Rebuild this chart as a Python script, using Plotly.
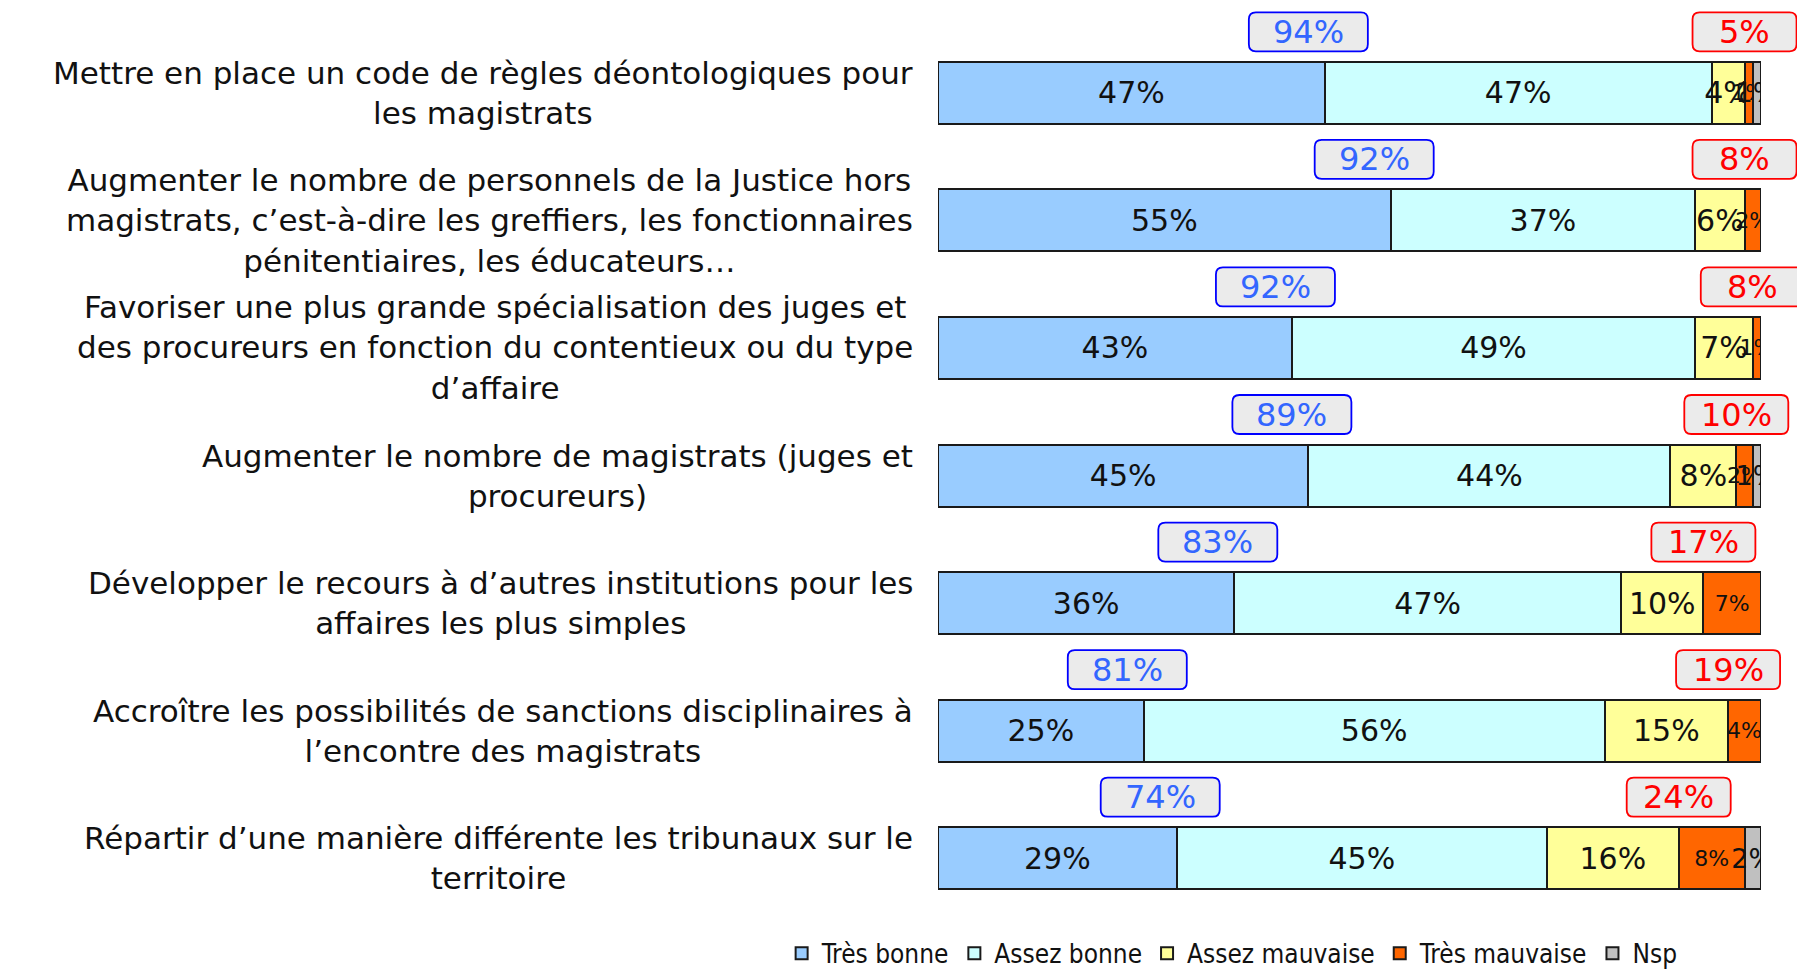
import plotly.graph_objects as go

categories = [
    "Mettre en place un code de règles déontologiques pour<br>les magistrats",
    "Augmenter le nombre de personnels de la Justice hors<br>magistrats, c’est-à-dire les greffiers, les fonctionnaires<br>pénitentiaires, les éducateurs…",
    "Favoriser une plus grande spécialisation des juges et<br>des procureurs en fonction du contentieux ou du type<br>d’affaire",
    "Augmenter le nombre de magistrats (juges et<br>procureurs)",
    "Développer le recours à d’autres institutions pour les<br>affaires les plus simples",
    "Accroître les possibilités de sanctions disciplinaires à<br>l’encontre des magistrats",
    "Répartir d’une manière différente les tribunaux sur le<br>territoire",
]
tres_bonne = [47, 55, 43, 45, 36, 25, 29]
assez_bonne = [47, 37, 49, 44, 47, 56, 45]
assez_mauvaise = [4, 6, 7, 8, 10, 15, 16]
tres_mauvaise = [1, 2, 1, 2, 7, 4, 8]
nsp = [1, 0, 0, 1, 0, 0, 2]
total_bonne = [94, 92, 92, 89, 83, 81, 74]
total_mauvaise = [5, 8, 8, 10, 17, 19, 24]

series = [
    ("Très bonne", tres_bonne, "#99CCFF", 30),
    ("Assez bonne", assez_bonne, "#CCFFFF", 30),
    ("Assez mauvaise", assez_mauvaise, "#FFFF99", 30),
    ("Très mauvaise", tres_mauvaise, "#FF6600", 22),
    ("Nsp", nsp, "#C0C0C0", 27),
]

FONT = "DejaVu Sans, Verdana, sans-serif"
n = len(categories)
ids = list(range(n))

fig = go.Figure()
for name, vals, color, fs in series:
    fig.add_trace(go.Bar(
        name=name, y=ids, x=vals, orientation="h",
        marker=dict(color=color, line=dict(color="#1a1a1a", width=2)),
        text=[f"{v}%" if v else "" for v in vals],
        textposition="inside", insidetextanchor="middle", textangle=0,
        constraintext="none",
        textfont=dict(family=FONT, size=fs, color="#111111"),
        hoverinfo="skip",
    ))


def rounded_box(w, h, r, dy):
    l, rt, b, t = -w / 2, w / 2, dy - h / 2, dy + h / 2
    return (f"M{l + r},{b} L{rt - r},{b} Q{rt},{b} {rt},{b + r} L{rt},{t - r} "
            f"Q{rt},{t} {rt - r},{t} L{l + r},{t} Q{l},{t} {l},{t - r} "
            f"L{l},{b + r} Q{l},{b} {l + r},{b} Z")


BOX_DY = 61
annotations = []
shapes = []
for i, cat in enumerate(categories):
    y_paper = 1 - (i + 0.5) / n
    annotations.append(dict(
        x=0, xref="paper", y=i, yref="y", xanchor="right", yanchor="middle",
        xshift=-23, text=cat, align="center", showarrow=False,
        font=dict(family=FONT, size=31, color="#111111"),
    ))
    xb = tres_bonne[i] - 2
    shapes.append(dict(
        type="path", xref="paper", yref="paper", xsizemode="pixel", ysizemode="pixel",
        xanchor=xb / 100, yanchor=y_paper, path=rounded_box(119, 39, 7, BOX_DY),
        fillcolor="#EBEBEB", line=dict(color="#0000FF", width=1.8),
    ))
    annotations.append(dict(
        x=xb, xref="x", y=i, yref="y", yshift=BOX_DY,
        text=f"{total_bonne[i]}%", showarrow=False,
        font=dict(family=FONT, size=32, color="#3366FF"),
    ))
    xr = tres_bonne[i] + assez_bonne[i] + assez_mauvaise[i]
    shapes.append(dict(
        type="path", xref="paper", yref="paper", xsizemode="pixel", ysizemode="pixel",
        xanchor=xr / 100, yanchor=y_paper, path=rounded_box(104, 39, 7, BOX_DY),
        fillcolor="#EBEBEB", line=dict(color="#FF0000", width=1.8),
    ))
    annotations.append(dict(
        x=xr, xref="x", y=i, yref="y", yshift=BOX_DY,
        text=f"{total_mauvaise[i]}%", showarrow=False,
        font=dict(family=FONT, size=32, color="#FF0000"),
    ))

# page body has an 8px margin: compensate so the plot lands where the reference has it
fig.update_layout(
    barmode="stack",
    bargap=0.514,
    width=1805, height=973,
    margin=dict(l=930, r=52, t=21, b=59, autoexpand=False),
    plot_bgcolor="white", paper_bgcolor="white",
    xaxis=dict(range=[0, 100], visible=False, fixedrange=True),
    yaxis=dict(range=[n - 0.5, -0.5], visible=False, fixedrange=True),
    annotations=annotations,
    shapes=shapes,
    showlegend=True,
    legend=dict(
        orientation="h", x=-0.19, xanchor="left", y=-0.035, yanchor="middle",
        font=dict(family="DejaVu Sans Condensed, DejaVu Sans, sans-serif", size=26, color="#111111"),
        traceorder="normal", itemwidth=30, bgcolor="rgba(0,0,0,0)",
    ),
)

fig.write_html("out.html")
